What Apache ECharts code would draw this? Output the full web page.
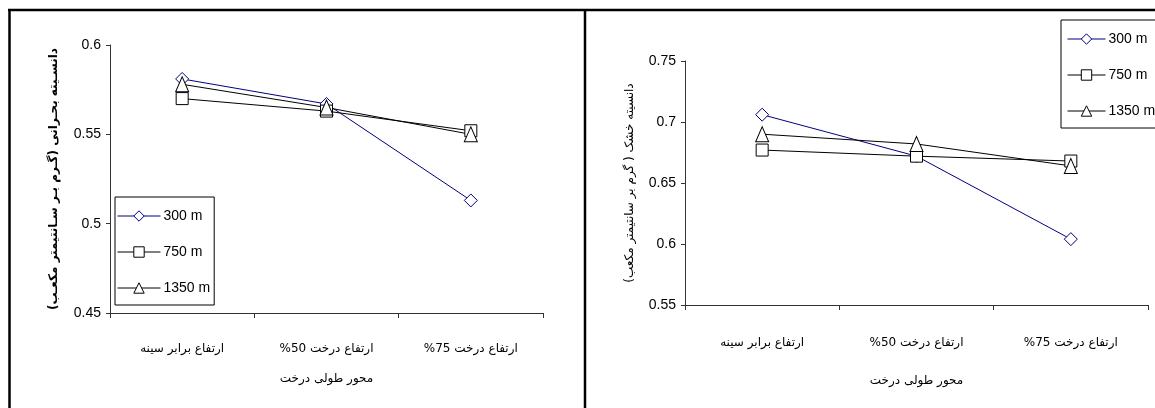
<!DOCTYPE html>
<html>
<head>
<meta charset="utf-8">
<script src="https://cdn.jsdelivr.net/npm/echarts@6/dist/echarts.min.js"></script>
<style>
html,body{margin:0;padding:0;background:#fff;}
#c{width:1155px;height:408px;}
</style>
</head>
<body>
<div id="c"></div>
<script>
// ---- data ----
const categories = ['ارتفاع برابر سینه', 'ارتفاع درخت 50%', 'ارتفاع درخت 75%'];
const seriesNames = ['300 m', '750 m', '1350 m'];
// left chart: critical density
const left300 = [0.581, 0.567, 0.513];
const left750 = [0.570, 0.563, 0.552];
const left1350 = [0.578, 0.565, 0.550];
// right chart: dry density
const right300 = [0.706, 0.672, 0.604];
const right750 = [0.677, 0.672, 0.668];
const right1350 = [0.690, 0.682, 0.664];
const leftYName = 'دانسـیته بحـرانی (گـرم بـر سـانتیمتر مکعـب)';
const rightYName = 'دانسیته خشک ( گرم بر سانتیمتر مکعب)';
const xName = 'محور طولی درخت';

// ---- styles ----
const NARROW = "'Liberation Sans Narrow', 'Arial Narrow', 'Liberation Sans', sans-serif";
const ARAB = "'DejaVu Sans', sans-serif";
const RLE = '\u202B', PDF = '\u202C';
const navy = '#000080';
const symbols = ['diamond', 'rect', 'triangle'];
const sizes = [[13, 13], [12, 12], [13, 15]];
const colors = [navy, '#000', '#000'];

function mkSeries(name, idx, data, axisIdx) {
  return {
    type: 'line', name: name, data: data,
    xAxisIndex: axisIdx, yAxisIndex: axisIdx,
    symbol: symbols[idx], symbolSize: sizes[idx],
    showAllSymbol: true,
    lineStyle: {color: colors[idx], width: 1},
    itemStyle: {color: '#fff', borderColor: colors[idx], borderWidth: 1},
    emphasis: {disabled: true},
    animation: false
  };
}

function xAxis(gridIndex, margin, nameGap) {
  return {
    type: 'category', gridIndex: gridIndex, data: categories,
    boundaryGap: true,
    axisLine: {lineStyle: {color: '#333', width: 1}},
    axisTick: {show: true, length: 5, alignWithLabel: false, lineStyle: {color: '#333'}},
    axisLabel: {margin: margin, color: '#000', fontFamily: ARAB, fontSize: 12,
      formatter: v => RLE + v + PDF},
    name: RLE + xName + PDF, nameLocation: 'middle', nameGap: nameGap,
    nameTextStyle: {color: '#000', fontFamily: ARAB, fontSize: 12}
  };
}

function yAxis(gridIndex, min, max, name, bold, nameGap) {
  return {
    type: 'value', gridIndex: gridIndex, min: min, max: max, interval: 0.05,
    splitLine: {show: false},
    axisLine: {show: true, lineStyle: {color: '#333', width: 1}},
    axisTick: {show: true, length: 4, lineStyle: {color: '#333'}},
    axisLabel: {margin: 9, color: '#000', fontFamily: NARROW, fontSize: 14,
      formatter: v => String(Math.round(v * 100) / 100)},
    name: RLE + name + '\u200F' + PDF, nameLocation: 'middle', nameGap: nameGap,
    nameTextStyle: {color: '#000', fontFamily: ARAB, fontSize: 12, fontWeight: bold ? 'bold' : 'normal'}
  };
}

function legend(left, top, gap, itemWidth, padding) {
  return {
    orient: 'vertical', left: left, top: top, data: seriesNames,
    itemWidth: itemWidth, itemHeight: 13, itemGap: gap,
    padding: padding,
    backgroundColor: '#fff', borderColor: '#000', borderWidth: 1,
    selectedMode: false,
    lineStyle: {width: 1},
    itemStyle: {borderWidth: 1},
    textStyle: {fontFamily: NARROW, fontSize: 14, color: '#000', padding: [0, 0, 0, -2]}
  };
}

const chart = echarts.init(document.getElementById('c'), null, {renderer: 'canvas'});
chart.setOption({
  backgroundColor: '#fff',
  animation: false,
  grid: [
    {left: 110, top: 45, width: 433, height: 268},
    {left: 685, top: 61, width: 463, height: 244}
  ],
  xAxis: [xAxis(0, 30, 60), xAxis(1, 32, 70)],
  yAxis: [
    yAxis(0, 0.45, 0.6, leftYName, true, 50),
    yAxis(1, 0.55, 0.75, rightYName, false, 49)
  ],
  legend: [
    legend(115, 197, 22, 43, [12, 4, 10, 2]),
    legend(1061, 20, 22, 38, [12, 20, 10, 6])
  ],
  series: [
    mkSeries(seriesNames[0], 0, left300, 0),
    mkSeries(seriesNames[1], 1, left750, 0),
    mkSeries(seriesNames[2], 2, left1350, 0),
    mkSeries(seriesNames[0], 0, right300, 1),
    mkSeries(seriesNames[1], 1, right750, 1),
    mkSeries(seriesNames[2], 2, right1350, 1)
  ],
  graphic: [
    {type: 'line', shape: {x1: 8, y1: 10, x2: 1155, y2: 10}, style: {stroke: '#000', lineWidth: 2.5}, silent: true},
    {type: 'line', shape: {x1: 9.5, y1: 9, x2: 9.5, y2: 408}, style: {stroke: '#000', lineWidth: 2.5}, silent: true},
    {type: 'line', shape: {x1: 585, y1: 9, x2: 585, y2: 408}, style: {stroke: '#000', lineWidth: 2.5}, silent: true}
  ]
});
</script>
</body>
</html>
